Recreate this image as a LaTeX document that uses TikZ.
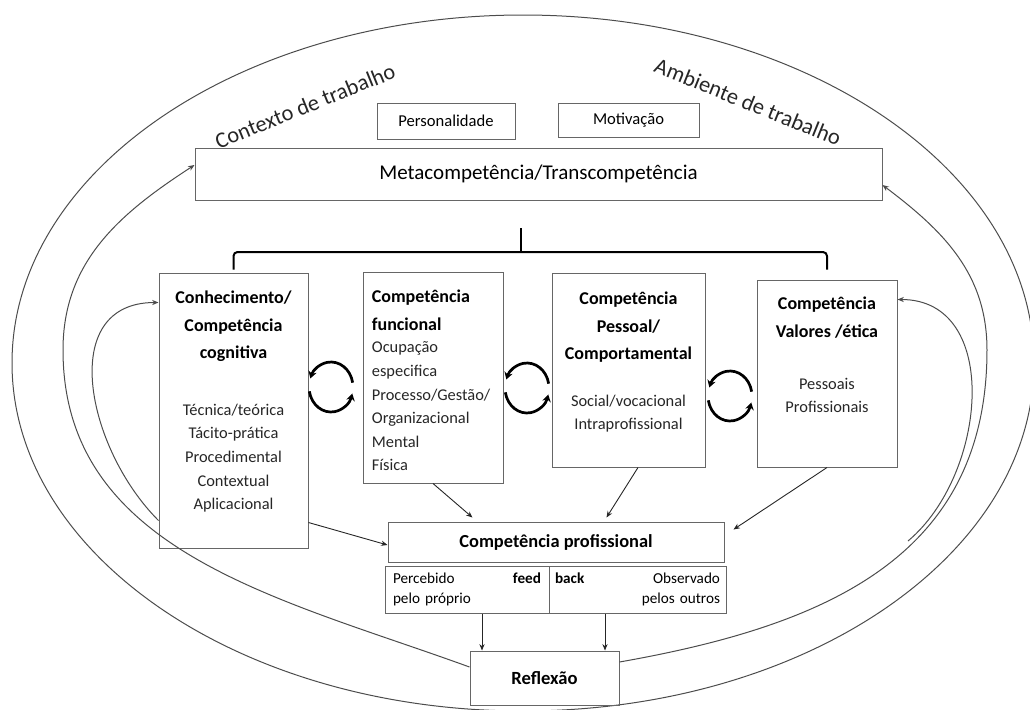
\documentclass[tikz,border=0pt]{standalone}
\usepackage{fontspec}
\setmainfont{Carlito}
\usetikzlibrary{arrows.meta}

\begin{document}
\begin{tikzpicture}[x=0.5pt, y=0.5pt, >={Stealth[length=3.2pt,width=2.6pt]}]
  \tikzset{
    box/.style={draw=black!60, line width=0.5pt, inner sep=0pt, align=center},
    ttl/.style={font=\fontsize{9}{13.8}\selectfont\bfseries, inner sep=0pt, align=center},
    lst/.style={font=\fontsize{8.2}{11.8}\selectfont, text=black!85, inner sep=0pt, align=center},
    env/.style={draw=black!70, line width=0.5pt},
    conn/.style={->, draw=black!85, line width=0.45pt},
    cyc/.style={-{Stealth[length=3.6pt,width=4.2pt]}, line width=1.35pt},
    brace/.style={line width=1pt, rounded corners=2pt},
    ctx/.style={font=\fontsize{11.2}{13}\selectfont, text=black!85, inner sep=0pt}
  }
  \useasboundingbox (0,0) rectangle (1030,-709);
  \clip (0,0) rectangle (1030,-709);

  % outer ring and its labels
  \draw[env] (523,-363) ellipse [x radius=511, y radius=348];
  \node[ctx, rotate=22] (ctxl) at (305,-106) {Contexto de trabalho};
  \node[ctx, rotate=-22] (ctxr) at (748,-102) {Ambiente de trabalho};

  % top row
  \node[box, minimum width=69pt, minimum height=18pt, font=\fontsize{8.3}{10}\selectfont] (pers) at (446,-121) {Personalidade};
  \node[box, minimum width=70.5pt, minimum height=17pt, font=\fontsize{8.3}{10}\selectfont] (mot) at (628.5,-120) {Motivação};
  \node[box, minimum width=343.5pt, minimum height=26pt, font=\fontsize{10.5}{12}\selectfont] (meta) at (538.5,-174) {Metacompetência/Transcompetência};

  % four competences
  \node[box, minimum width=74.5pt, minimum height=137.5pt] (cog) at (233.5,-410.5) {};
  \node[box, minimum width=70pt, minimum height=105.5pt] (fun) at (433,-377.5) {};
  \node[box, minimum width=76.5pt, minimum height=97pt] (pes) at (628.5,-370) {};
  \node[box, minimum width=70pt, minimum height=93.5pt] (val) at (827,-373.5) {};

  \node[ttl, anchor=north] (cogttl) at ([yshift=-9pt]cog.north) {Conhecimento/\\Competência\\cognitiva};
  \node[lst, anchor=north] (coglst) at ([yshift=-65.5pt]cog.north) {Técnica/teórica\\Tácito-prática\\Procedimental\\Contextual\\Aplicacional};
  \node[ttl, anchor=north west, align=left] (funttl) at ([xshift=4.5pt, yshift=-9pt]fun.north west) {Competência\\funcional};
  \node[lst, anchor=north west, align=left] (funlst) at ([xshift=4.5pt, yshift=-35pt]fun.north west) {Ocupação\\especifica\\Processo/Gestão/\\Organizacional\\Mental\\Física};
  \node[ttl, anchor=north] (pesttl) at ([yshift=-9.5pt]pes.north) {Competência\\Pessoal/\\Comportamental};
  \node[lst, anchor=north] (peslst) at ([yshift=-61pt]pes.north) {Social/vocacional\\Intraprofissional};
  \node[ttl, anchor=north] (valttl) at ([yshift=-8.5pt]val.north) {Competência\\Valores /ética};
  \node[lst, anchor=north] (vallst) at ([yshift=-49pt]val.north) {Pessoais\\Profissionais};

  % bracket under the metacompetence
  \coordinate (peak) at (521,-228);
  \coordinate (brmid) at (521,-252);
  \draw[brace] ([yshift=1.5pt]cog.north) |- (brmid) -| ([yshift=5pt]val.north);
  \draw[brace] (brmid) -- (peak);

  % cycles between the competences
  \draw[cyc] (331,-387) ++(10:22 and 25) arc[start angle=10, end angle=160, x radius=22, y radius=25];
  \draw[cyc] (331,-387) ++(190:22 and 25) arc[start angle=190, end angle=345, x radius=22, y radius=25];
  \draw[cyc] (527,-388) ++(10:22 and 25) arc[start angle=10, end angle=160, x radius=22, y radius=25];
  \draw[cyc] (527,-388) ++(190:22 and 25) arc[start angle=190, end angle=345, x radius=22, y radius=25];
  \draw[cyc] (730,-396) ++(10:22 and 25) arc[start angle=10, end angle=160, x radius=22, y radius=25];
  \draw[cyc] (730,-396) ++(190:22 and 25) arc[start angle=190, end angle=345, x radius=22, y radius=25];

  % professional competence, feedback, reflection
  \node[box, minimum width=168pt, minimum height=20pt, font=\fontsize{9.2}{11}\selectfont\bfseries] (prof) at (556,-542) {Competência profissional};
  \node[box, minimum width=82pt, minimum height=23.5pt, inner xsep=4pt, text width=74pt, align=left, font=\fontsize{7.6}{10}\selectfont] (fbl) at (467,-589.5) {Percebido\hfill\textbf{feed}\\pelo próprio};
  \node[box, minimum width=88.5pt, minimum height=23.5pt, inner xsep=3pt, text width=82.5pt, align=right, font=\fontsize{7.6}{10}\selectfont] (fbr) at (637.5,-589.5) {\textbf{back}\hfill Observado\\pelos outros};
  \node[box, minimum width=74.5pt, minimum height=27pt, font=\fontsize{9.3}{11}\selectfont\bfseries] (refl) at (544.5,-678) {Reflexão};

  \draw[conn] ([yshift=13pt]cog.south east) -- ([yshift=-1.5pt]prof.west);
  \draw[conn] (fun.south) -- ([xshift=42.5pt, yshift=2pt]prof.north west);
  \draw[conn] ([xshift=4.75pt]pes.south) -- ([xshift=109.5pt, yshift=2pt]prof.north west);
  \draw[conn] (val.south) -- ([xshift=4.5pt, yshift=-4pt]prof.north east);
  \draw[conn] ([xshift=7.5pt]fbl.south) -- ([xshift=7.5pt]fbl.south |- refl.north);
  \draw[conn] ([xshift=-16.25pt]fbr.south) -- ([xshift=-16.25pt]fbr.south |- refl.north);

  % inner ring: reflection back to the metacompetence
  \coordinate (cinl) at (63,-350);
  \coordinate (cinr) at (987,-350);
  \draw[env, ->] ([yshift=5.5pt]refl.west) to[out=160, in=-90] (cinl) to[out=90, in=213] ([yshift=4.5pt]meta.west);
  \draw[env, ->] ([yshift=8pt]refl.east) to[out=10, in=-90, looseness=1.1] (cinr) to[out=90, in=-37] ([yshift=-5.5pt]meta.east);

  % loops back to the outer competences
  \coordinate (vloop) at (908,-541);
  \draw[env, ->] ([yshift=14pt]cog.south west) to[out=135, in=180, looseness=1.2] ([yshift=-15pt]cog.north west);
  \draw[env, ->] (vloop) to[out=40, in=0, looseness=1.1] ([yshift=-10pt]val.north east);
\end{tikzpicture}
\end{document}
